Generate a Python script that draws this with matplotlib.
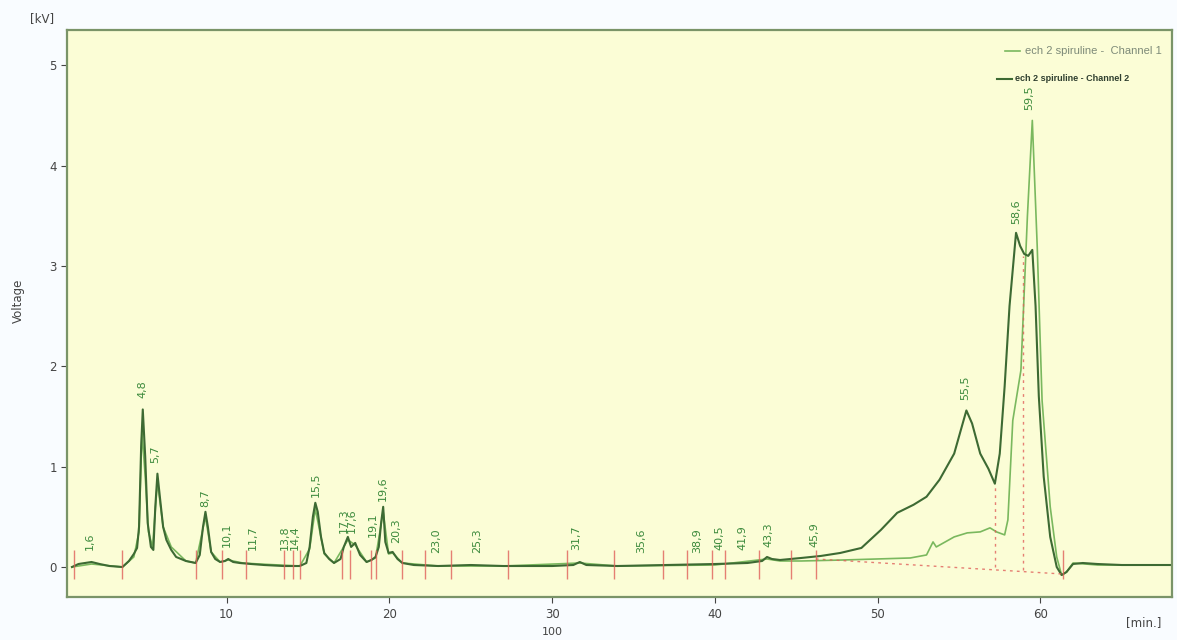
import matplotlib
matplotlib.use("Agg")
import matplotlib.pyplot as plt
from matplotlib.lines import Line2D

# chromatogram traces (time in min, signal in kV)
ch1_time = [0.5, 1.7, 3.6, 4.3, 4.62, 4.8, 5.0, 5.2, 5.45, 5.75, 6.1, 6.6, 7.5, 8.1,
            8.7, 9.05, 9.6, 10.1, 11.0, 12.0, 14.5, 15.1, 15.45, 16.0, 16.6, 17.45,
            17.9, 18.6, 19.15, 19.62, 19.95, 20.2, 20.8, 23.0, 27.0, 31.7, 34.0, 40.0,
            43.2, 44.0, 45.3, 47.9, 52.0, 53.0, 53.4, 53.6, 54.7, 55.5, 56.3, 56.9,
            57.3, 57.8, 58.0, 58.3, 58.8, 59.2, 59.5, 59.8, 60.1, 60.6, 61.0, 61.3,
            61.6, 62.0, 63.5, 68.1]
ch1_kv = [0.0, 0.03, 0.0, 0.1, 0.35, 1.35, 0.9, 0.35, 0.2, 0.85, 0.4, 0.2, 0.06, 0.04,
          0.5, 0.15, 0.05, 0.07, 0.04, 0.03, 0.01, 0.18, 0.58, 0.13, 0.04, 0.27,
          0.22, 0.05, 0.09, 0.55, 0.13, 0.14, 0.04, 0.01, 0.01, 0.04, 0.01, 0.02,
          0.08, 0.06, 0.06, 0.07, 0.09, 0.12, 0.25, 0.2, 0.3, 0.34, 0.35, 0.39,
          0.35, 0.32, 0.47, 1.46, 1.96, 3.5, 4.45, 3.2, 1.66, 0.6, 0.1, -0.08,
          -0.05, 0.04, 0.02, 0.02]

ch2_time = [0.5, 0.9, 1.3, 1.7, 2.2, 2.8, 3.6, 4.0, 4.3, 4.5, 4.62, 4.75, 4.85, 5.0,
            5.15, 5.35, 5.5, 5.62, 5.75, 5.9, 6.1, 6.3, 6.6, 6.9, 7.5, 8.1, 8.35,
            8.55, 8.7, 8.85, 9.05, 9.3, 9.6, 9.9, 10.1, 10.4, 10.8, 11.5, 12.3, 13.5,
            14.5, 14.9, 15.1, 15.3, 15.45, 15.6, 15.8, 16.0, 16.3, 16.6, 17.0, 17.2,
            17.45, 17.65, 17.9, 18.2, 18.6, 18.9, 19.15, 19.35, 19.5, 19.62, 19.75,
            19.95, 20.2, 20.5, 20.8, 21.5, 23.0, 25.0, 27.0, 30.0, 31.3, 31.7, 32.1,
            34.0, 37.0, 40.0, 42.0, 42.9, 43.2, 43.5, 44.0, 45.3, 46.5, 47.7, 49.0,
            50.2, 51.2, 52.2, 53.0, 53.8, 54.7, 55.1, 55.45, 55.8, 56.3, 56.8, 57.2,
            57.5, 57.8, 58.1, 58.5, 58.75, 59.0, 59.25, 59.5, 59.7, 59.9, 60.2, 60.6,
            61.0, 61.3, 61.6, 62.0, 62.6, 63.5, 65.0, 68.1]
ch2_kv = [0.0, 0.03, 0.04, 0.05, 0.03, 0.01, 0.0, 0.06, 0.13, 0.19, 0.4, 1.2, 1.57, 1.1,
          0.44, 0.2, 0.17, 0.6, 0.93, 0.7, 0.4, 0.27, 0.17, 0.1, 0.06, 0.04, 0.12,
          0.4, 0.55, 0.4, 0.15, 0.08, 0.05, 0.06, 0.08, 0.05, 0.04, 0.03, 0.02, 0.01,
          0.01, 0.04, 0.2, 0.5, 0.64, 0.55, 0.3, 0.14, 0.08, 0.04, 0.08, 0.2,
          0.3, 0.2, 0.24, 0.12, 0.05, 0.07, 0.1, 0.2, 0.45, 0.6, 0.25,
          0.14, 0.15, 0.08, 0.04, 0.02, 0.01, 0.02, 0.01, 0.01, 0.02, 0.05, 0.02,
          0.01, 0.02, 0.03, 0.04, 0.06, 0.1, 0.08, 0.07, 0.09, 0.11, 0.14, 0.19,
          0.37, 0.54, 0.62, 0.7, 0.87, 1.13, 1.36, 1.56, 1.43, 1.13, 0.98, 0.83,
          1.13, 1.8, 2.6, 3.33, 3.2, 3.12, 3.1, 3.16, 2.6, 1.7, 0.9, 0.3,
          0.0, -0.08, -0.05, 0.03, 0.04, 0.03, 0.02, 0.02]

# peak labels: text, x position, y of text bottom
peak_text = ["1,6", "4,8", "5,7", "8,7", "10,1", "11,7", "13,8", "14,4", "15,5", "17,3",
             "17,6", "19,1", "19,6", "20,3", "23,0", "25,3", "31,7", "35,6", "38,9",
             "40,5", "41,9", "43,3", "45,9", "55,5", "58,6", "59,5"]
peak_x = [1.6, 4.8, 5.6, 8.7, 10.0, 11.6, 13.6, 14.2, 15.5, 17.2,
          17.7, 19.0, 19.6, 20.4, 22.9, 25.4, 31.5, 35.5, 38.9,
          40.3, 41.7, 43.3, 46.1, 55.4, 58.5, 59.3]
peak_y = [0.17, 1.68, 1.04, 0.6, 0.2, 0.17, 0.17, 0.17, 0.7, 0.34,
          0.34, 0.3, 0.66, 0.24, 0.14, 0.14, 0.17, 0.14, 0.14,
          0.17, 0.17, 0.2, 0.2, 1.66, 3.42, 4.55]

# integration marks
tick_x = [0.6, 3.6, 8.1, 9.7, 11.2, 13.5, 14.1, 14.5, 17.1, 17.6, 18.9, 19.2, 20.8,
          22.2, 23.8, 27.3, 30.9, 33.8, 36.8, 38.3, 39.8, 40.6, 42.7, 44.7, 46.2, 61.4]
base_x = [46.2, 61.4]
base_y = [0.08, -0.07]
drop_x = [57.2, 58.9]
drop_top = [0.83, 3.1]
drop_bottom = [0.0, -0.03]

ch1_name = "ech 2 spiruline -  Channel 1"
ch2_name = "ech 2 spiruline - Channel 2"
col1 = "#7ab85e"
col2 = "#3d6a33"

fig = plt.figure(figsize=(11.77, 6.4), dpi=100, facecolor="#f9fcff")
ax = fig.add_axes([0.057, 0.067, 0.939, 0.886])
ax.set_facecolor("#fbfdd6")

ax.plot(ch1_time, ch1_kv, color=col1, lw=1.2)
ax.plot(ch2_time, ch2_kv, color=col2, lw=1.5)

ax.vlines(tick_x, -0.12, 0.17, color="#e0605a", lw=1.0, alpha=0.8)
ax.plot(base_x, base_y, color="#e0605a", lw=1.0, ls=(0, (2, 3)), alpha=0.8)
ax.vlines(drop_x, drop_bottom, drop_top, color="#e0605a", lw=1.0, ls=(0, (2, 3)), alpha=0.8)

for txt, x, y in zip(peak_text, peak_x, peak_y):
    ax.text(x, y, txt, rotation=90, ha="center", va="bottom", fontsize=8,
            color="#3c8a3c")

ax.set_xlim(0.2, 68.1)
ax.set_ylim(-0.3, 5.35)
ax.set_xticks([10, 20, 30, 40, 50, 60])
ax.set_yticks([0, 1, 2, 3, 4, 5])
ax.tick_params(axis="both", labelsize=8.5, colors="#444444", length=4, width=0.8)
for s in ax.spines.values():
    s.set_color("#7a9468")
    s.set_linewidth(1.6)

# legend entries drawn by hand, the two rows use different text sizes
fig.add_artist(Line2D([0.854, 0.867], [0.921, 0.921], color=col1, lw=1.2))
fig.text(0.871, 0.921, ch1_name, fontsize=8, family="Liberation Sans",
         color="#7d8a78", va="center")
fig.add_artist(Line2D([0.847, 0.860], [0.877, 0.877], color=col2, lw=1.5))
fig.text(0.862, 0.877, ch2_name, fontsize=6.5, family="Liberation Sans",
         color="#2f3f2f", va="center", weight="bold")

fig.text(0.036, 0.965, "[kV]", fontsize=8.5, color="#444444", ha="center")
fig.text(0.016, 0.53, "Voltage", rotation=90, fontsize=8.5, color="#444444",
         va="center", ha="center")
fig.text(0.972, 0.022, "[min.]", fontsize=8.5, color="#444444", ha="center")
fig.text(0.469, 0.008, "100", fontsize=8, color="#444444", ha="center")

fig.savefig("out.png", dpi=100, facecolor=fig.get_facecolor())
